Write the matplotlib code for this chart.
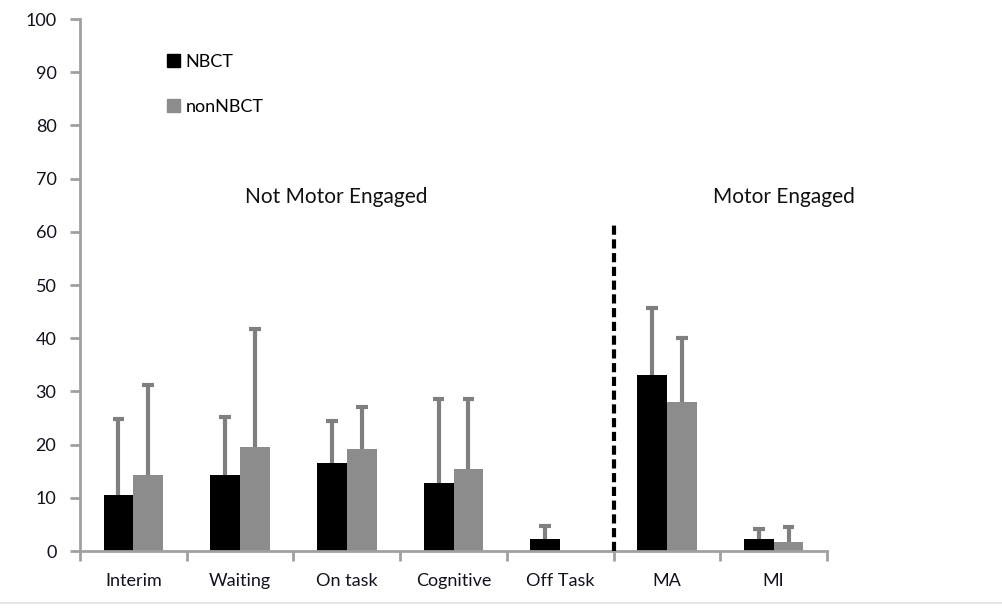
import numpy as np
import matplotlib.pyplot as plt
from matplotlib.patches import Patch
from matplotlib.lines import Line2D

categories = ['Interim', 'Waiting', 'On task', 'Cognitive', 'Off Task', 'MA', 'MI']
nbct = [10.5, 14.2, 16.5, 12.8, 2.2, 33.0, 2.2]
non_nbct = [14.2, 19.6, 19.2, 15.5, 0.0, 28.0, 1.7]
nbct_err = [14.4, 11.0, 7.9, 15.7, 2.5, 12.6, 1.9]
non_nbct_err = [17.1, 22.2, 7.9, 13.0, 0.0, 12.1, 2.9]

plt.rcParams['font.family'] = ['Lato', 'DejaVu Sans']

fig = plt.figure(figsize=(10.03, 6.10), dpi=100)
ax = fig.add_axes([0.0798, 0.0967, 0.7447, 0.872])

x = np.arange(len(categories))
w = 0.28
err_col = '#7f7f7f'
ax.bar(x - w / 2, nbct, w, color='black', zorder=2)
ax.bar(x + w / 2, non_nbct, w, color='#8c8c8c', zorder=2)

# upper error bars only: stem from bar top plus a cap
cap = 0.055
for xs, vals, errs in [(x - w / 2, nbct, nbct_err), (x + w / 2, non_nbct, non_nbct_err)]:
    for xi, v, e in zip(xs, vals, errs):
        if e > 0:
            ax.vlines(xi, v, v + e, color=err_col, lw=3, zorder=1)
            ax.hlines(v + e, xi - cap, xi + cap, color=err_col, lw=3, zorder=1)

# divider between the two groups
ax.plot([4.5, 4.5], [0, 62], color='black', lw=3, ls=(0, (2.2, 1.1)), zorder=4)

ax.text(1.9, 66.5, 'Not Motor Engaged', ha='center', va='center', fontsize=15, color='#111111')
ax.text(6.1, 66.5, 'Motor Engaged', ha='center', va='center', fontsize=15, color='#111111')

ax.set_xlim(-0.5, 6.5)
ax.set_ylim(0, 100)
ax.set_yticks(range(0, 101, 10))
ax.set_xticks(x)
ax.set_xticklabels(categories)
ax.set_xticks(np.arange(-0.5, 7, 1), minor=True)
ax.tick_params(axis='x', which='major', length=0, pad=16, labelsize=13, labelcolor='#111122')
ax.tick_params(axis='x', which='minor', length=7, width=2, color='#a0a0a0')
ax.tick_params(axis='y', length=7, width=2, color='#a0a0a0', pad=10, labelsize=13,
               labelcolor='#111122')

for s in ['top', 'right']:
    ax.spines[s].set_visible(False)
for s in ['left', 'bottom']:
    ax.spines[s].set_color('#a0a0a0')
    ax.spines[s].set_linewidth(2)

handles = [Patch(color='black'), Patch(color='#8c8c8c')]
ax.legend(handles, ['NBCT', 'nonNBCT'], loc='upper left', bbox_to_anchor=(0.095, 0.965),
          frameon=False, handlelength=0.7, handleheight=0.7, handletextpad=0.3,
          labelspacing=1.6, fontsize=13)

fig.add_artist(Line2D([0, 1], [1 - 603 / 610] * 2, color='#e6e6e6', lw=1.5))

fig.savefig('out.png', dpi=100)
